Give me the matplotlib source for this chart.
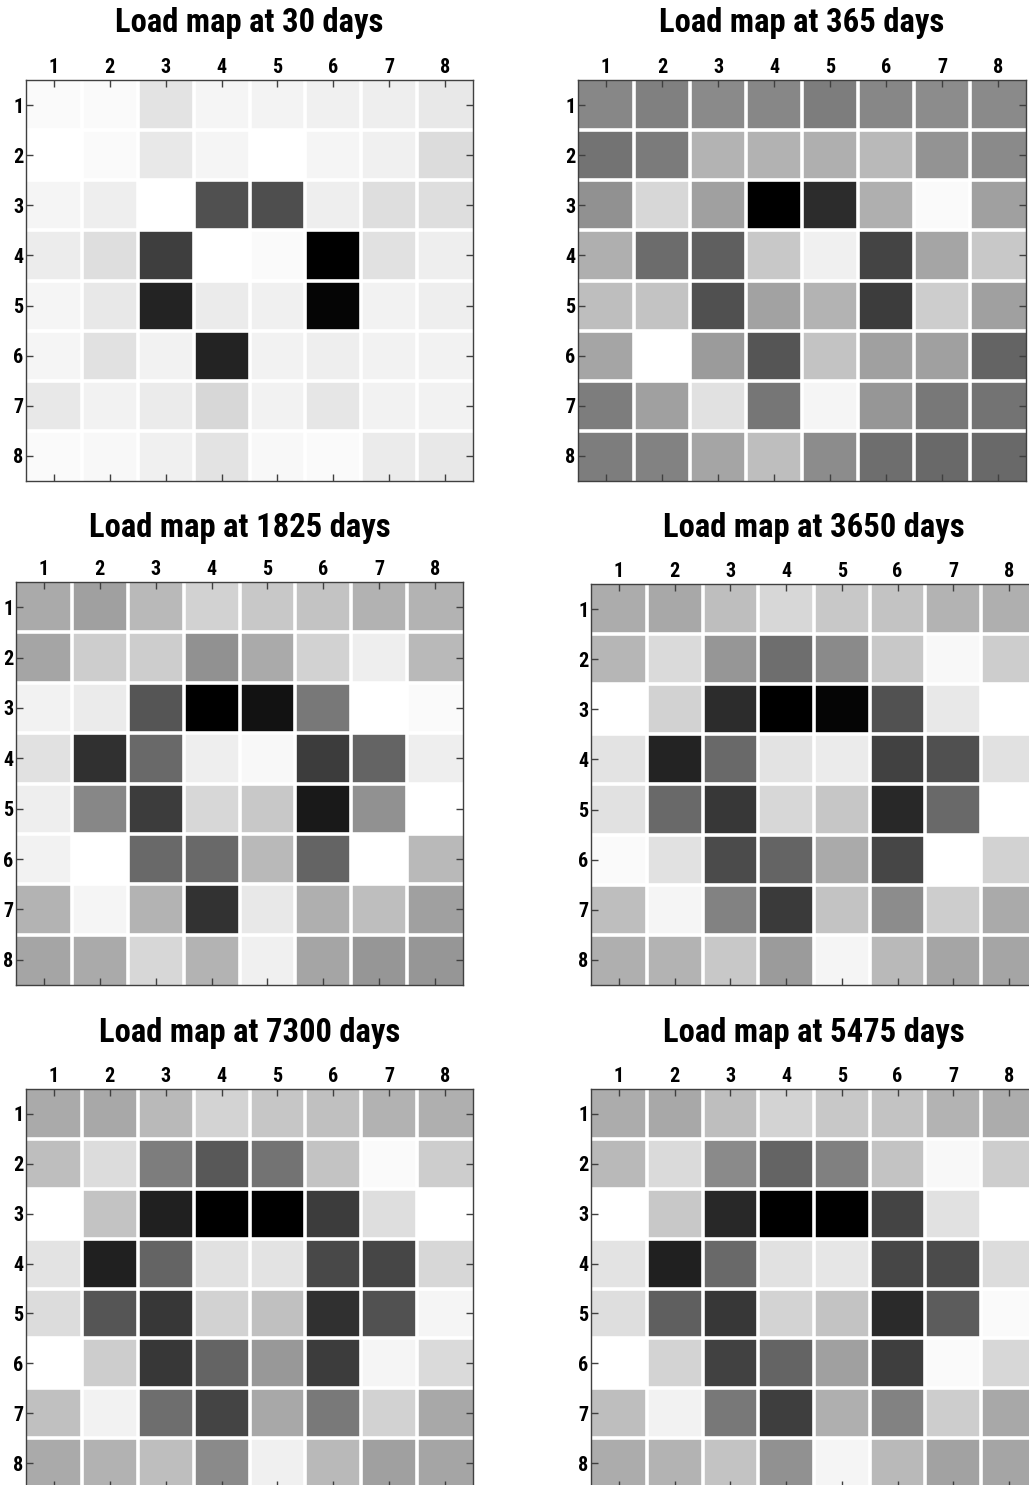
import numpy as np
import matplotlib
matplotlib.use("Agg")
import matplotlib.pyplot as plt

"""Font"""
plt.rcParams['font.family'] = ['Roboto Condensed', 'Fira Sans Condensed', 'Liberation Sans', 'DejaVu Sans']
plt.rcParams['font.weight'] = 'bold'

"""Cell shades read off the maps (0 = black / highest load, 255 = white)"""
shade_30 = [
    [250, 250, 228, 245, 244, 240, 238, 232],
    [255, 250, 232, 245, 255, 245, 240, 220],
    [245, 238, 255, 80, 78, 238, 222, 222],
    [236, 222, 62, 255, 250, 0, 225, 238],
    [245, 232, 35, 235, 240, 5, 242, 238],
    [245, 225, 242, 35, 242, 238, 242, 242],
    [232, 242, 235, 215, 242, 230, 242, 242],
    [250, 248, 240, 228, 248, 250, 235, 232],
]
shade_365 = [
    [135, 128, 138, 135, 125, 135, 140, 138],
    [115, 123, 180, 178, 175, 185, 148, 138],
    [145, 215, 160, 0, 45, 175, 250, 160],
    [175, 108, 95, 200, 240, 68, 165, 200],
    [190, 195, 80, 162, 180, 60, 205, 160],
    [165, 255, 155, 85, 195, 160, 160, 100],
    [125, 160, 225, 118, 245, 150, 120, 115],
    [125, 130, 165, 190, 140, 110, 105, 105],
]
shade_1825 = [
    [170, 160, 185, 210, 200, 195, 178, 180],
    [165, 205, 205, 145, 170, 210, 238, 185],
    [242, 235, 85, 0, 18, 120, 255, 250],
    [225, 48, 105, 238, 248, 60, 100, 238],
    [238, 135, 60, 215, 200, 25, 145, 255],
    [242, 255, 105, 105, 185, 100, 255, 185],
    [180, 245, 180, 50, 232, 175, 190, 160],
    [165, 170, 215, 180, 240, 165, 150, 150],
]
shade_3650 = [
    [172, 168, 190, 215, 200, 195, 180, 175],
    [182, 218, 150, 110, 138, 200, 248, 205],
    [255, 210, 45, 0, 5, 82, 232, 255],
    [228, 35, 105, 228, 235, 65, 80, 225],
    [225, 105, 55, 215, 198, 40, 105, 255],
    [250, 225, 75, 100, 170, 70, 255, 210],
    [190, 245, 130, 58, 195, 140, 205, 170],
    [175, 180, 200, 155, 245, 185, 165, 165],
]
shade_7300 = [
    [170, 168, 185, 212, 198, 192, 178, 175],
    [190, 220, 125, 88, 115, 195, 250, 205],
    [255, 195, 32, 0, 0, 60, 222, 255],
    [228, 32, 100, 225, 228, 72, 70, 215],
    [220, 85, 55, 210, 192, 48, 82, 245],
    [255, 205, 55, 100, 152, 60, 245, 218],
    [192, 242, 110, 68, 168, 122, 210, 168],
    [170, 178, 190, 138, 240, 185, 160, 165],
]
shade_5475 = [
    [172, 168, 190, 212, 200, 195, 180, 172],
    [185, 218, 138, 100, 128, 195, 248, 205],
    [255, 200, 40, 0, 0, 68, 225, 255],
    [228, 32, 105, 225, 230, 70, 75, 220],
    [222, 95, 55, 212, 195, 42, 92, 250],
    [255, 212, 65, 100, 160, 62, 250, 215],
    [190, 242, 120, 62, 175, 130, 205, 168],
    [172, 180, 195, 145, 245, 185, 162, 165],
]

days = [30, 365, 1825, 3650, 7300, 5475]
maps = [shade_30, shade_365, shade_1825, shade_3650, shade_7300, shade_5475]
tick_labels = ['1', '2', '3', '4', '5', '6', '7', '8']

"""Layout (pixels: left, right, top, bottom, title baseline)"""
W, H = 1029, 1485
boxes = [
    (26, 473, 80, 481, 32),
    (578, 1026, 80, 481, 32),
    (16, 463, 582, 985, 537),
    (591, 1037, 584, 985, 537),
    (26, 473, 1089, 1488, 1042),
    (591, 1037, 1089, 1488, 1042),
]

fig = plt.figure(figsize=(W/100, H/100), dpi=100)

for d, m, (x0, x1, y0, y1, yt) in zip(days, maps, boxes):
    ax = fig.add_axes([x0/W, 1-y1/H, (x1-x0)/W, (y1-y0)/H])
    a = np.array(m)
    n = a.shape[0]
    ax.imshow(a, cmap='gray', vmin=0, vmax=255, aspect='auto',
              interpolation='nearest', extent=(0.5, n+0.5, n+0.5, 0.5))
    for k in range(1, n):
        ax.axhline(k+0.5, color='white', lw=2.6)
        ax.axvline(k+0.5, color='white', lw=2.6)
    ax.set_xlim(0.5, n+0.5)
    ax.set_ylim(n+0.5, 0.5)
    ax.set_xticks(range(1, n+1))
    ax.set_yticks(range(1, n+1))
    ax.set_xticklabels(tick_labels, fontsize=14.5, fontweight='bold')
    ax.set_yticklabels(tick_labels, fontsize=14.5, fontweight='bold')
    ax.tick_params(direction='in', top=True, bottom=True, left=True, right=True,
                   labeltop=True, labelbottom=False, length=5, width=1,
                   color='#404040', pad=2)
    for s in ax.spines.values():
        s.set_color('#404040')
        s.set_linewidth(1)
    fig.text((x0+x1)/2/W, 1-yt/H, 'Load map at %d days' % d, ha='center',
             va='baseline', fontsize=23.5, fontweight='bold')

plt.savefig('out.png', dpi=100)
